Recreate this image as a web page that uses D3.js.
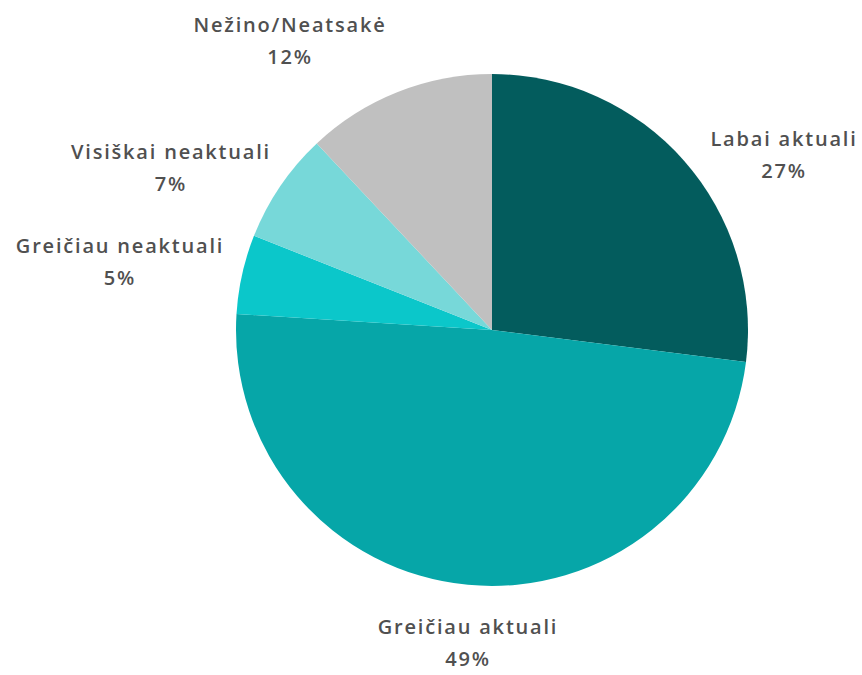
<!DOCTYPE html>
<html>
<head>
<meta charset="utf-8">
<script src="https://cdn.jsdelivr.net/npm/d3@7"></script>
<style>
  body { margin: 0; background: #fff; }
  svg text { font-family: "Open Sans", sans-serif; fill: #505050; }
</style>
</head>
<body>
<div id="chart"></div>
<script>
// ----------------------
// Data
// ----------------------
const categories = ["Labai aktuali", "Greičiau aktuali", "Greičiau neaktuali", "Visiškai neaktuali", "Nežino/Neatsakė"];
const values = [27, 49, 5, 7, 12];
const colors = ["#035c5d", "#06a6a8", "#0bc7ca", "#77d8d9", "#c0c0c0"];

// label anchor points (centre of the two-line label)
const labelPos = [[784, 155], [468, 643], [120, 262], [171, 168], [290, 41]];

// ----------------------
// Setup
// ----------------------
const width = 862, height = 675;
const cx = 492, cy = 330, radius = 256;

const svg = d3.select("#chart")
    .append("svg")
    .attr("width", width)
    .attr("height", height);

const g = svg.append("g")
    .attr("transform", `translate(${cx},${cy})`);

const pie = d3.pie()
    .sort(null)
    .value(d => d);

const arc = d3.arc()
    .innerRadius(0)
    .outerRadius(radius);

const arcs = pie(values);

g.selectAll("path")
    .data(arcs)
    .enter()
    .append("path")
    .attr("d", arc)
    .attr("fill", (d, i) => colors[i]);

// ----------------------
// Labels
// ----------------------
const labels = svg.selectAll("g.label")
    .data(arcs)
    .enter()
    .append("g")
    .attr("class", "label")
    .attr("transform", (d, i) => `translate(${labelPos[i][0]},${labelPos[i][1]})`);

labels.append("text")
    .attr("text-anchor", "middle")
    .attr("y", -9)
    .style("font-size", "20px")
    .style("font-weight", 600)
    .style("letter-spacing", "1.8px")
    .text((d, i) => categories[i]);

labels.append("text")
    .attr("text-anchor", "middle")
    .attr("y", 23)
    .style("font-size", "20px")
    .style("font-weight", 600)
    .style("letter-spacing", "1.8px")
    .text(d => d.data + "%");
</script>
</body>
</html>
